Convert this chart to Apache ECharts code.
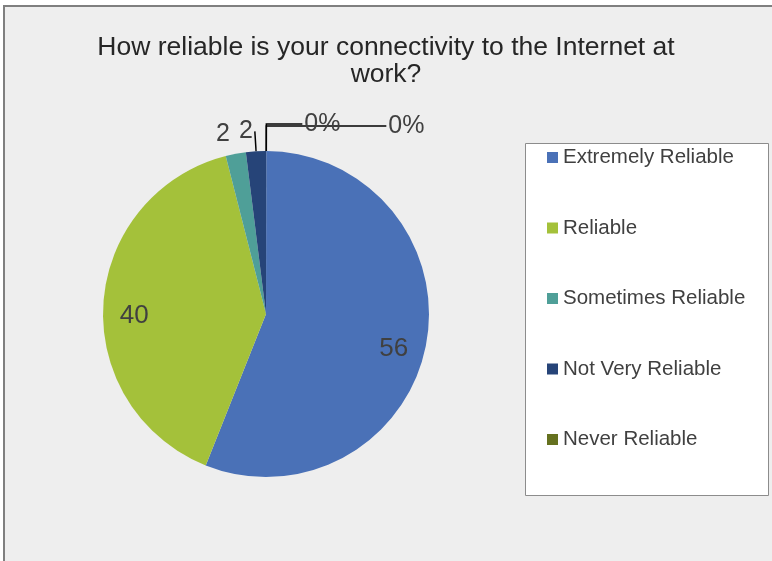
<!DOCTYPE html>
<html>
<head>
<meta charset="utf-8">
<script src="https://cdn.jsdelivr.net/npm/echarts@6/dist/echarts.min.js"></script>
<style>
  html, body { margin: 0; padding: 0; background: #fff; }
  #main { width: 772px; height: 561px; }
</style>
</head>
<body>
<div id="main"></div>
<script>
// answers, in legend order
var categories = ['Extremely Reliable', 'Reliable', 'Sometimes Reliable', 'Not Very Reliable', 'Never Reliable'];
var values = [56, 40, 2, 2, 0];
var colors = ['#4a71b7', '#a4c13a', '#4f9f98', '#264478', '#65711f'];
// the sheet had one extra, empty category with no legend entry
var blankValue = 0;

// zero slices go first so their labels fall on the right of 12 o'clock, like the original
var order = [4, 5, 0, 1, 2, 3];
var allNames = categories.concat([' ']);
var allValues = values.concat([blankValue]);
var allColors = colors.concat(['#8a8a8a']);

// per-slice label set up for the outside labels
var outerLabel = {
  0: {show: false},
  1: {show: false},
  2: {show: true, lineShow: false, length: 20, length2: 0},
  3: {show: true, lineShow: true, length: 20, length2: 0},
  4: {show: true, lineShow: true, length: 27, length2: 36},
  5: {show: true, lineShow: true, length: 25, length2: 120}
};

var mainData = order.map(function (i) {
  var o = outerLabel[i];
  return {
    name: allNames[i],
    value: allValues[i],
    itemStyle: {color: allColors[i]},
    label: {show: o.show},
    labelLine: {show: o.lineShow || false, length: o.length || 0, length2: o.length2 || 0}
  };
});

var innerData = order.map(function (i) {
  return {
    name: allNames[i],
    value: allValues[i],
    itemStyle: {color: 'rgba(0,0,0,0)'},
    label: {show: i === 0 || i === 1}
  };
});

var chart = echarts.init(document.getElementById('main'));
chart.setOption({
  backgroundColor: '#ffffff',
  animation: false,
  graphic: [
    {
      type: 'rect',
      shape: {x: 4, y: 6, width: 800, height: 600},
      style: {fill: '#eeeeee', stroke: '#7f7f7f', lineWidth: 2},
      z: -10
    },
    {
      type: 'rect',
      shape: {x: 525.5, y: 143.5, width: 243, height: 352},
      style: {fill: '#ffffff', stroke: '#8c8c8c', lineWidth: 1},
      z: -9
    }
  ],
  title: {
    text: 'How reliable is your connectivity to the Internet at\nwork?',
    left: 'center',
    top: 29,
    textStyle: {
      fontFamily: 'Liberation Sans',
      fontSize: 26.5,
      fontWeight: 'normal',
      color: '#262626',
      lineHeight: 27
    }
  },
  legend: {
    data: categories,
    orient: 'vertical',
    left: 547,
    top: 147,
    padding: 0,
    itemWidth: 11,
    itemHeight: 11,
    itemGap: 49.5,
    icon: 'rect',
    selectedMode: false,
    textStyle: {
      fontFamily: 'Liberation Sans',
      fontSize: 20.5,
      color: '#404040',
      lineHeight: 20
    }
  },
  series: [
    {
      type: 'pie',
      center: [266, 314],
      radius: [0, 163],
      startAngle: 89.9,
      clockwise: true,
      avoidLabelOverlap: false,
      silent: true,
      label: {
        position: 'outside',
        fontFamily: 'Liberation Sans',
        fontSize: 25,
        color: '#404040',
        distanceToLabelLine: 2,
        formatter: function (p) {
          return p.value === 0 ? '0%' : String(p.value);
        }
      },
      labelLine: {
        lineStyle: {color: '#000000', width: 1.5}
      },
      data: mainData
    },
    {
      // transparent twin of the pie that only carries the big inside labels
      type: 'pie',
      center: [266, 314],
      radius: [93, 163],
      startAngle: 89.9,
      clockwise: true,
      silent: true,
      label: {
        position: 'inside',
        fontFamily: 'Liberation Sans',
        fontSize: 26,
        color: '#404040',
        offset: [-1, 10],
        formatter: '{c}'
      },
      labelLine: {show: false},
      data: innerData
    }
  ]
});
</script>
</body>
</html>
